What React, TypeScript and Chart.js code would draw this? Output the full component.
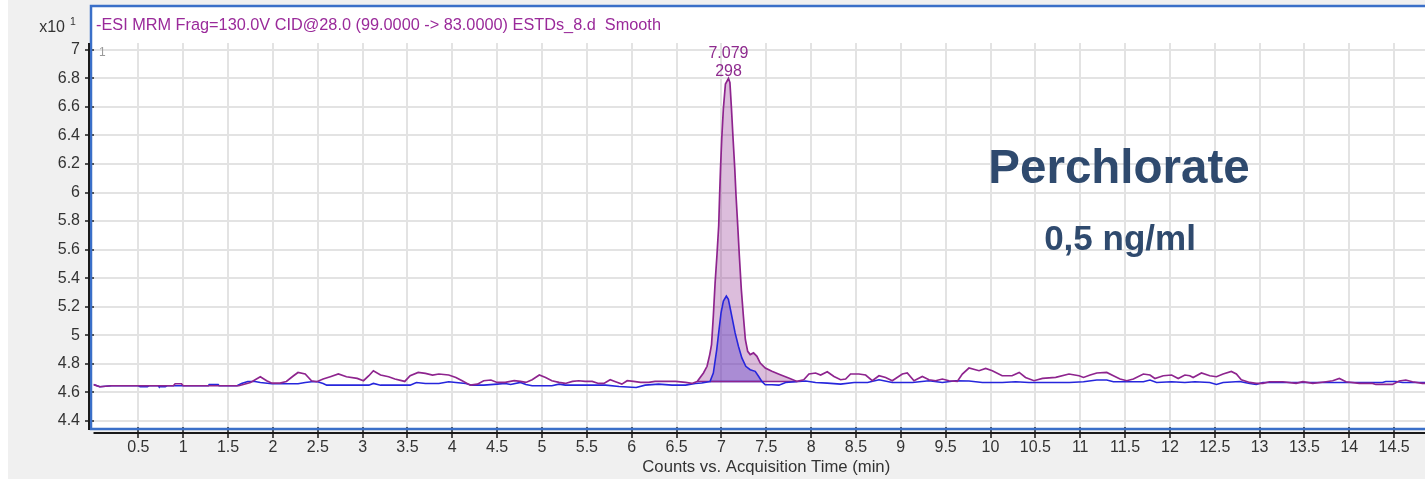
import React, { useEffect, useRef } from "react";
import { Chart, registerables } from "chart.js";

Chart.register(...registerables);

// ---------- text ----------
const traceTitle = "-ESI MRM Frag=130.0V CID@28.0 (99.0000 -> 83.0000) ESTDs_8.d  Smooth";
const yMultiplier = "x10";
const yExponent = "1";
const panelIndex = "1";
const compoundName = "Perchlorate";
const concentration = "0,5 ng/ml";
const xAxisTitle = "Counts vs. Acquisition Time (min)";
const peakRT = "7.079";
const peakArea = "298";

// ---------- ticks ----------
const xTickValues = [0.5, 1, 1.5, 2, 2.5, 3, 3.5, 4, 4.5, 5, 5.5, 6, 6.5, 7, 7.5, 8, 8.5, 9, 9.5, 10, 10.5, 11, 11.5, 12, 12.5, 13, 13.5, 14, 14.5];
const yTickValues = [4.4, 4.6, 4.8, 5, 5.2, 5.4, 5.6, 5.8, 6, 6.2, 6.4, 6.6, 6.8, 7];

// ---------- purple trace (smoothed MRM, counts x10^1) ----------
const purpleTime = [
  0.0, 0.07, 0.2, 0.5, 0.89, 0.91, 0.98, 1.0, 1.62, 1.75, 1.86, 1.93, 1.99, 2.08, 2.15, 2.23, 2.28, 2.36, 2.43, 2.49,
  2.56, 2.64, 2.73, 2.82, 2.94, 3.01, 3.07, 3.12, 3.2, 3.29, 3.36, 3.47, 3.53, 3.62, 3.7, 3.78, 3.85, 3.96, 4.04, 4.11,
  4.2, 4.28, 4.35, 4.43, 4.5, 4.59, 4.69, 4.76, 4.82, 4.89, 4.97, 5.04, 5.11, 5.19, 5.26, 5.34, 5.41, 5.48, 5.56, 5.63,
  5.69, 5.76, 5.82, 5.89, 5.95, 6.02, 6.1, 6.19, 6.26, 6.38, 6.49, 6.6, 6.67, 6.73, 6.8, 6.84, 6.87, 6.89, 6.91, 6.93,
  6.95, 6.97, 6.98, 6.99, 7.004, 7.022, 7.045, 7.079, 7.095, 7.112, 7.13, 7.149, 7.163, 7.182, 7.2, 7.222, 7.245, 7.267, 7.293, 7.321,
  7.358, 7.396, 7.433, 7.489, 7.563, 7.657, 7.75, 7.843, 7.918, 7.976, 8.05, 8.106, 8.18, 8.255, 8.329, 8.385, 8.44, 8.533, 8.608, 8.682,
  8.757, 8.831, 8.905, 9.017, 9.072, 9.147, 9.24, 9.314, 9.388, 9.463, 9.537, 9.63, 9.686, 9.76, 9.872, 9.946, 10.02, 10.13, 10.24, 10.32,
  10.39, 10.485, 10.58, 10.727, 10.875, 10.987, 11.037, 11.111, 11.185, 11.296, 11.37, 11.444, 11.519, 11.593, 11.704, 11.778, 11.833, 11.926, 12.019, 12.093,
  12.167, 12.222, 12.259, 12.352, 12.444, 12.519, 12.593, 12.685, 12.741, 12.796, 12.889, 12.963, 13.037, 13.111, 13.259, 13.407, 13.481, 13.593, 13.741, 13.815,
  13.889, 13.963, 14.111, 14.259, 14.296, 14.481, 14.556, 14.63, 14.704, 14.815, 15.0,
];
const purpleSignal = [
  4.655, 4.64, 4.647, 4.647, 4.647, 4.661, 4.661, 4.647, 4.647, 4.67, 4.71, 4.682, 4.665, 4.665, 4.677, 4.717, 4.74, 4.729, 4.682, 4.675,
  4.694, 4.71, 4.729, 4.71, 4.698, 4.682, 4.717, 4.752, 4.722, 4.71, 4.694, 4.677, 4.717, 4.74, 4.733, 4.722, 4.729, 4.722, 4.705, 4.682,
  4.651, 4.658, 4.682, 4.687, 4.67, 4.67, 4.682, 4.677, 4.67, 4.689, 4.722, 4.705, 4.682, 4.67, 4.663, 4.677, 4.682, 4.677, 4.677, 4.663,
  4.663, 4.689, 4.675, 4.658, 4.682, 4.677, 4.67, 4.67, 4.677, 4.677, 4.677, 4.67, 4.663, 4.677, 4.736, 4.783, 4.865, 4.935, 5.135, 5.369,
  5.557, 5.768, 5.979, 6.167, 6.378, 6.589, 6.76, 6.8, 6.77, 6.589, 6.378, 6.167, 5.979, 5.768, 5.557, 5.322, 5.135, 4.971, 4.888, 4.865,
  4.877, 4.853, 4.806, 4.771, 4.748, 4.724, 4.701, 4.677, 4.689, 4.729, 4.736, 4.722, 4.745, 4.712, 4.689, 4.694, 4.729, 4.729, 4.722, 4.682,
  4.717, 4.705, 4.682, 4.729, 4.736, 4.682, 4.712, 4.689, 4.682, 4.694, 4.682, 4.677, 4.729, 4.771, 4.752, 4.768, 4.752, 4.717, 4.717, 4.74,
  4.705, 4.682, 4.698, 4.705, 4.729, 4.717, 4.705, 4.722, 4.736, 4.74, 4.717, 4.694, 4.682, 4.694, 4.729, 4.722, 4.698, 4.717, 4.722, 4.698,
  4.722, 4.717, 4.705, 4.736, 4.717, 4.71, 4.729, 4.747, 4.729, 4.689, 4.67, 4.663, 4.663, 4.675, 4.675, 4.663, 4.675, 4.663, 4.675, 4.682,
  4.698, 4.675, 4.663, 4.663, 4.656, 4.656, 4.68, 4.687, 4.675, 4.663, 4.663,
];

// ---------- blue trace ----------
const blueTime = [
  0.0, 0.07, 0.2, 0.5, 0.52, 0.6, 0.62, 0.72, 0.73, 0.8, 0.82, 1.28, 1.29, 1.39, 1.4, 1.6, 1.65, 1.72, 1.8, 1.86,
  1.99, 2.28, 2.36, 2.43, 2.49, 2.56, 2.6, 3.07, 3.12, 3.2, 3.53, 3.6, 3.7, 3.85, 3.96, 4.04, 4.15, 4.22, 4.35, 4.5,
  4.59, 4.65, 4.76, 4.82, 4.89, 5.11, 5.19, 5.26, 5.48, 5.71, 5.86, 6.05, 6.15, 6.3, 6.45, 6.6, 6.71, 6.78, 6.873, 6.91,
  6.948, 6.974, 6.996, 7.022, 7.055, 7.078, 7.097, 7.123, 7.153, 7.19, 7.228, 7.272, 7.321, 7.377, 7.414, 7.451, 7.489, 7.563, 7.641, 7.716,
  7.827, 7.939, 8.05, 8.18, 8.329, 8.48, 8.63, 8.757, 8.905, 9.13, 9.314, 9.463, 9.61, 9.76, 9.91, 10.13, 10.28, 10.43, 10.65, 10.88,
  11.037, 11.185, 11.296, 11.37, 11.704, 11.778, 11.852, 12.019, 12.167, 12.278, 12.444, 12.519, 12.593, 12.778, 12.889, 12.963, 13.037, 13.259, 13.481, 13.63,
  13.926, 14.074, 14.37, 14.407, 14.519, 14.593, 15.0,
];
const blueSignal = [
  4.655, 4.64, 4.647, 4.647, 4.64, 4.64, 4.647, 4.647, 4.64, 4.64, 4.647, 4.647, 4.655, 4.655, 4.647, 4.647, 4.663, 4.677, 4.677, 4.67,
  4.661, 4.661, 4.67, 4.675, 4.677, 4.663, 4.651, 4.651, 4.663, 4.651, 4.651, 4.67, 4.663, 4.663, 4.675, 4.67, 4.663, 4.651, 4.651, 4.658,
  4.663, 4.656, 4.67, 4.656, 4.647, 4.647, 4.658, 4.651, 4.651, 4.651, 4.642, 4.635, 4.651, 4.658, 4.651, 4.651, 4.663, 4.666, 4.677, 4.736,
  4.9, 5.041, 5.158, 5.24, 5.275, 5.252, 5.193, 5.111, 5.017, 4.924, 4.842, 4.783, 4.759, 4.748, 4.713, 4.677, 4.654, 4.654, 4.651, 4.67,
  4.675, 4.68, 4.67, 4.665, 4.658, 4.67, 4.67, 4.689, 4.67, 4.67, 4.682, 4.67, 4.682, 4.68, 4.67, 4.67, 4.675, 4.67, 4.67, 4.67,
  4.675, 4.687, 4.687, 4.675, 4.675, 4.687, 4.67, 4.675, 4.67, 4.675, 4.67, 4.656, 4.67, 4.677, 4.663, 4.656, 4.67, 4.67, 4.67, 4.67,
  4.67, 4.67, 4.67, 4.677, 4.677, 4.67, 4.67,
];

// ---------- integrated peaks (start, end, baseline level) ----------
const purplePeakBounds = [6.73, 7.843];
const purplePeakBaseline = 4.677;
const bluePeakBounds = [6.873, 7.451];
const bluePeakBaseline = 4.677;
const peakApex = [7.079, 6.8];

const PURPLE = "#8e248e";
const BLUE = "#2626dc";
const FONT = "'Liberation Sans', Arial, sans-serif";

function zip(t: number[], v: number[]) {
  return t.map((x, i) => ({ x, y: v[i] }));
}
function segment(t: number[], v: number[], b: number[]) {
  return zip(t, v).filter((p) => p.x >= b[0] && p.x <= b[1]);
}

export default function App() {
  const ref = useRef<HTMLCanvasElement | null>(null);

  useEffect(() => {
    if (!ref.current) return;

    const framePlugin = {
      id: "frame",
      beforeDraw(chart: any) {
        const { ctx, width } = chart;
        ctx.save();
        ctx.fillStyle = "#f0f0f0";
        ctx.fillRect(0, 0, width, chart.height);
        ctx.fillStyle = "#ffffff";
        ctx.fillRect(83, 5, width - 83, 425);
        ctx.restore();
      },
      afterDraw(chart: any) {
        const { ctx, width, chartArea, scales } = chart;
        ctx.save();
        // blue frame
        ctx.strokeStyle = "#3a6fc8";
        ctx.lineWidth = 2.5;
        ctx.beginPath();
        ctx.moveTo(width, 6);
        ctx.lineTo(83, 6);
        ctx.lineTo(83, 429);
        ctx.lineTo(width, 429);
        ctx.stroke();
        // black axis lines
        ctx.strokeStyle = "#1a1a1a";
        ctx.lineWidth = 2;
        ctx.beginPath();
        ctx.moveTo(81, chartArea.top);
        ctx.lineTo(81, 430);
        ctx.stroke();
        ctx.beginPath();
        ctx.moveTo(chartArea.left, 433);
        ctx.lineTo(width, 433);
        ctx.stroke();

        // multiplier label
        ctx.fillStyle = "#333";
        ctx.textBaseline = "middle";
        ctx.textAlign = "right";
        ctx.font = `16px ${FONT}`;
        ctx.fillText(yMultiplier, 57, 28);
        ctx.textAlign = "left";
        ctx.font = `10.5px ${FONT}`;
        ctx.fillText(yExponent, 62, 22);

        // trace title
        ctx.fillStyle = "#9a2a9a";
        ctx.font = `16.3px ${FONT}`;
        ctx.fillText(traceTitle, 88, 26);

        // panel index
        ctx.fillStyle = "#9a9a9a";
        ctx.font = `12px ${FONT}`;
        ctx.fillText(panelIndex, 91, 53);

        // peak label
        const px = scales.x.getPixelForValue(peakApex[0]);
        const py = scales.y.getPixelForValue(peakApex[1]);
        ctx.fillStyle = "#8e2a8e";
        ctx.textAlign = "center";
        ctx.font = `16px ${FONT}`;
        ctx.fillText(peakRT, px, py - 25);
        ctx.fillText(peakArea, px, py - 7);

        // compound annotation
        ctx.fillStyle = "#2f4a6e";
        ctx.font = `bold 47.5px ${FONT}`;
        ctx.fillText(compoundName, 1111, 170);
        ctx.font = `bold 35px ${FONT}`;
        ctx.fillText(concentration, 1112, 240);
        ctx.restore();
      },
    };

    const chart = new Chart(ref.current, {
      type: "line",
      data: {
        datasets: [
          {
            label: "purple area",
            data: segment(purpleTime, purpleSignal, purplePeakBounds),
            borderWidth: 0,
            backgroundColor: "rgba(140,36,140,0.3)",
            fill: { value: purplePeakBaseline },
            order: 6,
          },
          {
            label: "blue area",
            data: segment(blueTime, blueSignal, bluePeakBounds),
            borderWidth: 0,
            backgroundColor: "rgba(90,60,200,0.38)",
            fill: { value: bluePeakBaseline },
            order: 5,
          },
          {
            label: "purple baseline",
            data: purplePeakBounds.map((x) => ({ x, y: purplePeakBaseline })),
            borderColor: PURPLE,
            borderWidth: 1.6,
            fill: false,
            order: 4,
          },
          {
            label: "blue baseline",
            data: bluePeakBounds.map((x) => ({ x, y: bluePeakBaseline })),
            borderColor: BLUE,
            borderWidth: 1.6,
            fill: false,
            order: 4,
          },
          {
            label: "blue",
            data: zip(blueTime, blueSignal),
            borderColor: BLUE,
            borderWidth: 1.6,
            fill: false,
            order: 3,
          },
          {
            label: "purple",
            data: zip(purpleTime, purpleSignal),
            borderColor: PURPLE,
            borderWidth: 1.7,
            fill: false,
            order: 2,
          },
        ],
      },
      options: {
        animation: false,
        responsive: false,
        devicePixelRatio: 1,
        layout: { padding: { left: 0, right: 4, top: 43, bottom: 0 } },
        elements: { point: { radius: 0 }, line: { tension: 0 } },
        plugins: { legend: { display: false }, tooltip: { enabled: false } },
        scales: {
          x: {
            type: "linear",
            min: 0,
            max: 15,
            afterFit: (s: any) => {
              s.height = 52;
            },
            afterBuildTicks: (s: any) => {
              s.ticks = xTickValues.map((value) => ({ value }));
            },
            border: { display: false },
            grid: { color: "#e3e3e3", lineWidth: 2, tickColor: "#1a1a1a", tickLength: 11, tickWidth: 1.5 },
            ticks: {
              autoSkip: false,
              maxRotation: 0,
              padding: 0,
              color: "#333",
              font: { family: FONT, size: 16 },
              callback: (v: any) => String(v),
            },
            title: {
              display: true,
              text: xAxisTitle,
              color: "#333",
              font: { family: FONT, size: 16.7 },
              padding: { top: 0, bottom: 2 },
            },
          },
          y: {
            type: "linear",
            min: 4.358,
            max: 7.047,
            afterFit: (s: any) => {
              s.width = 85.5;
            },
            afterBuildTicks: (s: any) => {
              s.ticks = yTickValues.map((value) => ({ value }));
            },
            border: { display: false },
            grid: { color: "#e3e3e3", lineWidth: 2, tickColor: "#1a1a1a", tickLength: 8.5, tickWidth: 1.5 },
            ticks: {
              padding: 5,
              color: "#333",
              font: { family: FONT, size: 16 },
              callback: (v: any) => String(Math.round(Number(v) * 10) / 10),
            },
          },
        },
      },
      plugins: [framePlugin],
    } as any);

    return () => chart.destroy();
  }, []);

  return (
    <div
      style={{
        position: "fixed",
        left: 8,
        top: 0,
        right: 0,
        bottom: 0,
        overflow: "hidden",
        background: "#f0f0f0",
      }}
    >
      <canvas ref={ref} width={1435} height={479} style={{ display: "block" }} />
    </div>
  );
}
